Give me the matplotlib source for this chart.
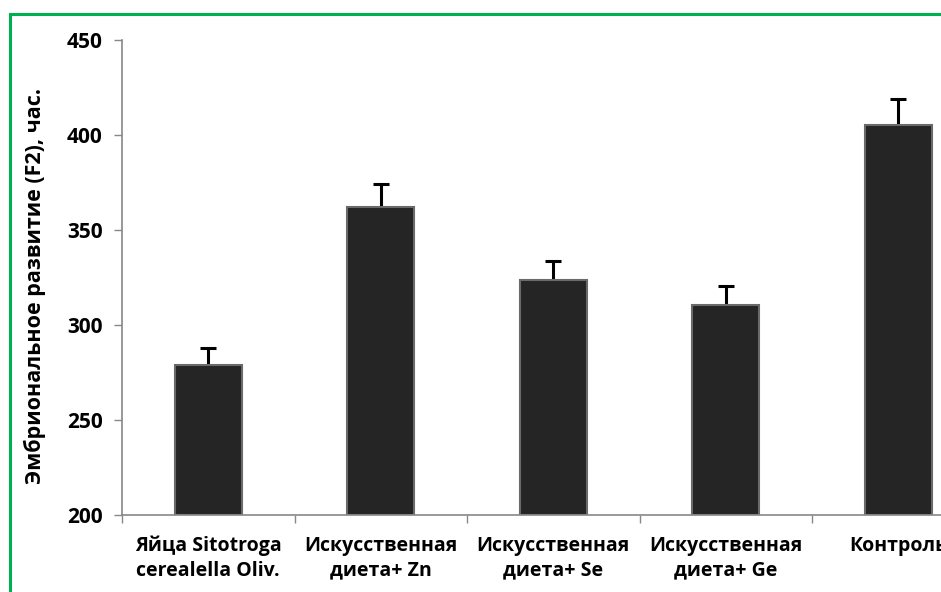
import matplotlib.pyplot as plt
from matplotlib.patches import Rectangle
from matplotlib.ticker import MultipleLocator, FixedLocator

# embryonic development time (F2), hours
categories = ['Яйца Sitotroga\ncerealella Oliv.', 'Искусственная\nдиета+ Zn',
              'Искусственная\nдиета+ Se', 'Искусственная\nдиета+ Ge', 'Контроль']
hours = [279, 362, 323.7, 310.5, 405.3]
errors = [9, 12.5, 10, 10, 13.7]

plt.rcParams['font.family'] = ['Open Sans', 'DejaVu Sans']
plt.rcParams['font.weight'] = 'bold'

fig = plt.figure(figsize=(9.41, 5.92), dpi=100)
# plot area runs past the right edge, as in the cropped figure
ax = fig.add_axes([0.1297, 0.130, 0.9166, 0.802])

x = range(len(categories))
ax.bar(x, [h - 200 for h in hours], bottom=200, width=0.39,
       color='#252525', edgecolor='#6a6a6a', linewidth=1.5, zorder=2)
# whiskers sit behind the bars so only the upper half shows
ax.errorbar(x, hours, yerr=errors, fmt='none',
            ecolor='black', elinewidth=2.2, capsize=6, capthick=2.2, zorder=1.5)

ax.set_xlim(-0.5, 4.5)
ax.set_ylim(200, 450)
ax.yaxis.set_major_locator(MultipleLocator(50))

ax.set_xticks(list(x))
ax.set_xticklabels(categories, fontsize=14, fontweight='bold', linespacing=1.3)
ax.tick_params(axis='x', which='major', length=0, pad=15)
ax.xaxis.set_minor_locator(FixedLocator([i - 0.5 for i in range(len(categories) + 1)]))
ax.tick_params(axis='x', which='minor', length=6, width=1, color='#888888', direction='out')
ax.tick_params(axis='y', length=6, width=1, color='#888888', labelsize=15, pad=8)
for lbl in ax.get_yticklabels():
    lbl.set_fontweight('bold')

ax.set_ylabel('Эмбриональное развитие (F2), час.', fontsize=15.5, fontweight='bold')
ax.yaxis.set_label_coords(-0.088, 0.482)

for side in ['top', 'right']:
    ax.spines[side].set_visible(False)
for side in ['left', 'bottom']:
    ax.spines[side].set_color('#888888')
    ax.spines[side].set_linewidth(1.2)

# green frame around the figure
fig.patches.append(Rectangle((10 / 941, -0.1), 1.2, 1.1 - 14 / 592,
                             transform=fig.transFigure, fill=False,
                             edgecolor='#00b050', linewidth=2.2))

fig.savefig('out.png', dpi=100)
